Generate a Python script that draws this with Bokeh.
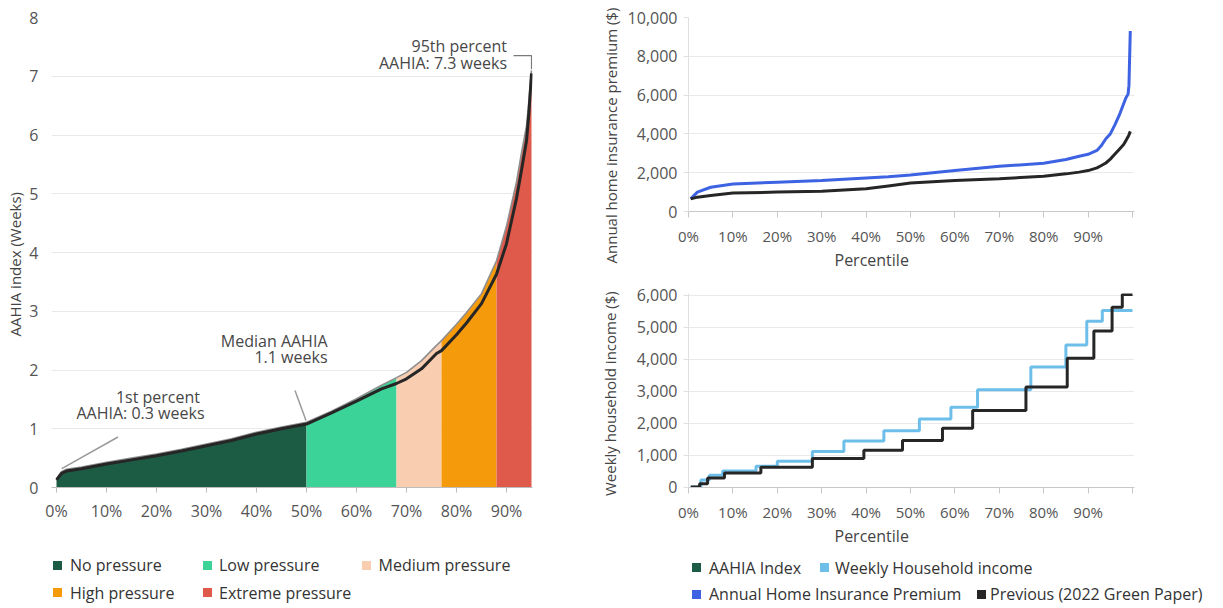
import numpy as np
from bokeh.plotting import figure
from bokeh.models import Range1d, FixedTicker, Title, NumeralTickFormatter, Div
from bokeh.layouts import row, column
from bokeh.embed import file_html
from bokeh.resources import INLINE
from bokeh.core.properties import value

FONT = "Open Sans"

# ---------------- Left chart data (AAHIA index by percentile) ----------------
pct = [0, 1, 2, 5, 10, 15, 20, 25, 30, 35, 40, 45, 50, 55, 60, 65, 68, 70, 73, 76, 77,
       80, 82, 85, 88, 90, 92, 93, 94, 94.5, 95]
aahia = [0.15, 0.27, 0.31, 0.35, 0.43, 0.50, 0.57, 0.65, 0.74, 0.83, 0.94, 1.03, 1.11, 1.30,
         1.51, 1.74, 1.87, 1.96, 2.16, 2.42, 2.50, 2.78, 2.98, 3.30, 3.86, 4.45, 5.20, 5.70,
         6.15, 6.60, 7.10]
previous_aahia = [0.13, 0.24, 0.28, 0.32, 0.40, 0.47, 0.54, 0.62, 0.71, 0.80, 0.91, 1.00, 1.08,
                  1.27, 1.47, 1.68, 1.77, 1.85, 2.02, 2.28, 2.33, 2.60, 2.80, 3.13, 3.63, 4.15,
                  4.92, 5.40, 5.90, 6.40, 7.05]

band_names = ["No pressure", "Low pressure", "Medium pressure", "High pressure", "Extreme pressure"]
band_start = [0, 50, 68, 77, 88]
band_end = [50, 68, 77, 88, 95]
band_colors = ["#1c5b44", "#3cd399", "#f8cdb0", "#f59b0b", "#e05a4b"]

left_x_ticks = [0, 10, 20, 30, 40, 50, 60, 70, 80, 90]
left_x_labels = ["0%", "10%", "20%", "30%", "40%", "50%", "60%", "70%", "80%", "90%"]
left_y_ticks = [0, 1, 2, 3, 4, 5, 6, 7, 8]

annot_text = ["95th percent", "AAHIA: 7.3 weeks", "Median AAHIA", "1.1 weeks",
              "1st percent", "AAHIA: 0.3 weeks"]
annot_x = [90.1, 90.1, 54.2, 54.2, 28.7, 29.6]
annot_y = [7.52, 7.23, 2.50, 2.22, 1.54, 1.26]

callout_95_x = [91.4, 95.0, 95.0]
callout_95_y = [7.35, 7.35, 7.12]
callout_x0 = [47.7, 12.3]
callout_y0 = [1.65, 0.86]
callout_x1 = [49.9, 1.05]
callout_y1 = [1.14, 0.32]

# ---------------- Top right: annual home insurance premium ----------------
prem_pct = [0.5, 2, 5, 10, 20, 30, 40, 45, 50, 60, 70, 80, 85, 88, 90, 92, 93, 94, 95, 96,
            97, 98, 98.5, 99, 99.2, 99.5]
premium = [650, 1000, 1250, 1420, 1510, 1600, 1730, 1790, 1880, 2110, 2330, 2490, 2680, 2850,
           2950, 3150, 3400, 3750, 4000, 4450, 4950, 5550, 5850, 6050, 6500, 9300]
prev_premium = [650, 740, 830, 950, 1000, 1050, 1170, 1320, 1470, 1600, 1690, 1820, 1940, 2030,
                2110, 2250, 2370, 2500, 2700, 2950, 3200, 3450, 3650, 3850, 3950, 4130]

# ---------------- Bottom right: weekly household income ----------------
inc_pct = [0.5, 2.8, 4.7, 7.7, 15.2, 20.0, 27.9, 35.0, 44.0, 52.0, 59.1, 65.1, 77.1, 85.0,
           89.7, 93.2, 100]
weekly_income = [0, 220, 370, 500, 650, 810, 1110, 1440, 1760, 2130, 2500, 3050, 3760, 4450,
                 5190, 5530, 5530]
prev_inc_pct = [0.5, 2.5, 4.3, 8.1, 16.3, 27.9, 39.5, 48.2, 57.2, 64.0, 76.0, 85.3, 91.3, 95.4,
                97.7, 100]
prev_income = [0, 100, 280, 440, 620, 890, 1150, 1460, 1840, 2400, 3130, 4030, 4890, 5630,
               6030, 6030]

right_x_ticks = [0, 10, 20, 30, 40, 50, 60, 70, 80, 90, 100]
right_x_labels = ["0%", "10%", "20%", "30%", "40%", "50%", "60%", "70%", "80%", "90%", ""]
prem_y_ticks = [0, 2000, 4000, 6000, 8000, 10000]
inc_y_ticks = [0, 1000, 2000, 3000, 4000, 5000, 6000]

right_legend_names = ["AAHIA Index", "Weekly Household income",
                      "Annual Home Insurance Premium", "Previous (2022 Green Paper)"]
right_legend_colors = ["#1c5b44", "#6dbfea", "#3d63e3", "#262626"]

TICK_COLOR = "#555555"
LABEL_COLOR = "#444444"
GRID = "#e9e9e9"

LEFT_W = 583
RIGHT_W = 1223 - LEFT_W


def base(p):
    p.outline_line_color = None
    p.background_fill_color = "white"
    p.border_fill_color = "white"
    p.xgrid.grid_line_color = None
    p.ygrid.grid_line_color = GRID
    for ax in (p.xaxis, p.yaxis):
        ax.major_label_text_font = FONT
        ax.major_label_text_color = TICK_COLOR
        ax.minor_tick_line_color = None
        ax.major_tick_in = 0


def side_title(text, size, offset, standoff, align="left", valign="bottom"):
    return Title(text=text, align=align, offset=offset, standoff=standoff,
                 vertical_align=valign,
                 text_font=FONT, text_font_size=size, text_font_style="normal",
                 text_color=LABEL_COLOR)


def legend_div(width, height, entries):
    """entries: (label, colour, swatch_left, swatch_top, text_left, text_top)"""
    parts = []
    for label, colour, sl, st, tl, tt in entries:
        parts.append(
            f'<span style="position:absolute;left:{sl}px;top:{st}px;width:9px;height:9px;'
            f'background:{colour};"></span>'
            f'<span style="position:absolute;left:{tl}px;top:{tt}px;line-height:22px;'
            f'white-space:nowrap;">{label}</span>')
    html = (f'<div style="position:relative;width:{width}px;height:{height}px;'
            f"font-family:'{FONT}';font-size:16px;color:#333333;\">" + "".join(parts) + "</div>")
    return Div(text=html, width=width, height=height, margin=0)


# ================= Left figure =================
pL = figure(width=LEFT_W, height=540, x_range=Range1d(-1, 95.2), y_range=Range1d(0, 8),
            output_backend="svg", toolbar_location=None,
            min_border_left=48, min_border_right=LEFT_W - 532, min_border_top=17,
            min_border_bottom=53)
base(pL)

for s, e, c in zip(band_start, band_end, band_colors):
    xs = [x for x in pct if s <= x <= e]
    ys = [v for x, v in zip(pct, aahia) if s <= x <= e]
    pL.varea(x=xs, y1=[0] * len(xs), y2=ys, fill_color=c, fill_alpha=1)

pL.line(pct, aahia, line_color="#8f8f8f", line_width=1.6)
pL.line(pct, previous_aahia, line_color="#262626", line_width=3)

pL.line(callout_95_x, callout_95_y, line_color="#7a7a7a", line_width=1.2)
pL.segment(x0=callout_x0, y0=callout_y0, x1=callout_x1, y1=callout_y1,
           line_color="#9a9a9a", line_width=1.5)
pL.text(x=annot_x, y=annot_y, text=annot_text, text_font=value(FONT),
        text_font_size=value("16px"), text_color="#474747", text_align="right",
        text_baseline="middle")

pL.xaxis.ticker = FixedTicker(ticks=left_x_ticks)
pL.xaxis.major_label_overrides = {t: l for t, l in zip(left_x_ticks, left_x_labels)}
pL.xaxis.axis_line_color = "#bdbdbd"
pL.xaxis.major_tick_line_color = "#bdbdbd"
pL.xaxis.major_tick_out = 5
pL.xaxis.major_label_text_font_size = "16px"
pL.xaxis.major_label_standoff = 7
pL.yaxis.ticker = FixedTicker(ticks=left_y_ticks)
pL.yaxis.axis_line_color = None
pL.yaxis.major_tick_line_color = None
pL.yaxis.major_label_text_font_size = "16px"
pL.yaxis.major_label_standoff = 7
pL.add_layout(side_title("AAHIA index (Weeks)", "15px", 151, 4), "left")

# left legend strip (y from 540 to 608 on the page)
left_entries = [
    (band_names[0], band_colors[0], 53, 20.7, 70, 14.2),
    (band_names[1], band_colors[1], 203, 20.7, 219, 14.2),
    (band_names[2], band_colors[2], 362, 20.7, 378.5, 14.2),
    (band_names[3], band_colors[3], 53, 48, 70, 41.5),
    (band_names[4], band_colors[4], 203, 48, 219, 41.5),
]
legL = legend_div(LEFT_W, 68, left_entries)

# ================= Right figures =================
R_LEFT = 688 - LEFT_W
R_RIGHT = 1223 - 1134

pT = figure(width=RIGHT_W, height=280, x_range=Range1d(0, 100.45), y_range=Range1d(0, 10000),
            output_backend="svg", toolbar_location=None,
            min_border_left=R_LEFT, min_border_right=R_RIGHT, min_border_top=17,
            min_border_bottom=69)
base(pT)
pT.line(prem_pct, premium, line_color="#3d63e3", line_width=3)
pT.line(prem_pct, prev_premium, line_color="#262626", line_width=3)

pB = figure(width=RIGHT_W, height=268, x_range=Range1d(0, 100.45), y_range=Range1d(-15, 6062),
            output_backend="svg", toolbar_location=None,
            min_border_left=R_LEFT, min_border_right=R_RIGHT, min_border_top=13,
            min_border_bottom=59)
base(pB)
pB.step(inc_pct, weekly_income, mode="after", line_color="#6dbfea", line_width=3)
pB.step(prev_inc_pct, prev_income, mode="after", line_color="#262626", line_width=3)

for p, yt in ((pT, prem_y_ticks), (pB, inc_y_ticks)):
    p.xaxis.ticker = FixedTicker(ticks=right_x_ticks)
    p.xaxis.major_label_overrides = {t: l for t, l in zip(right_x_ticks, right_x_labels)}
    p.xaxis.axis_line_color = "#c8c8c8"
    p.xaxis.major_tick_line_color = "#c8c8c8"
    p.xaxis.major_tick_out = 6
    p.xaxis.major_label_text_font_size = "15px"
    p.xaxis.major_label_standoff = 8
    p.yaxis.ticker = FixedTicker(ticks=yt)
    p.yaxis.formatter = NumeralTickFormatter(format="0,0")
    p.yaxis.axis_line_color = "#e0e0e0"
    p.yaxis.major_tick_line_color = "#e0e0e0"
    p.yaxis.major_tick_out = 5
    p.yaxis.major_label_text_font_size = "16px"
    p.yaxis.major_label_standoff = 6

pT.add_layout(side_title("Annual home insurance premium ($)", "15px", -52, 7), "left")
pT.add_layout(side_title("Percentile", "16px", 146, 0, valign="top"), "below")
pB.add_layout(side_title("Weekly household income ($)", "15px", -8.5, 28), "left")
pB.add_layout(side_title("Percentile", "16px", 146, 0, valign="top"), "below")

# right legend strip (x from LEFT_W, y from 548 on the page)
dx = 595 - LEFT_W
right_entries = [
    (right_legend_names[0], right_legend_colors[0], 97 + dx, 15, 114 + dx, 8.5),
    (right_legend_names[1], right_legend_colors[1], 225 + dx, 15, 240 + dx, 8.5),
    (right_legend_names[2], right_legend_colors[2], 97 + dx, 41.5, 114 + dx, 35),
    (right_legend_names[3], right_legend_colors[3], 382 + dx, 41.5, 395 + dx, 35),
]
legR = legend_div(RIGHT_W, 60, right_entries)

layout = row(column(pL, legL), column(pT, pB, legR))
open("out.html", "w").write(file_html(layout, INLINE))
